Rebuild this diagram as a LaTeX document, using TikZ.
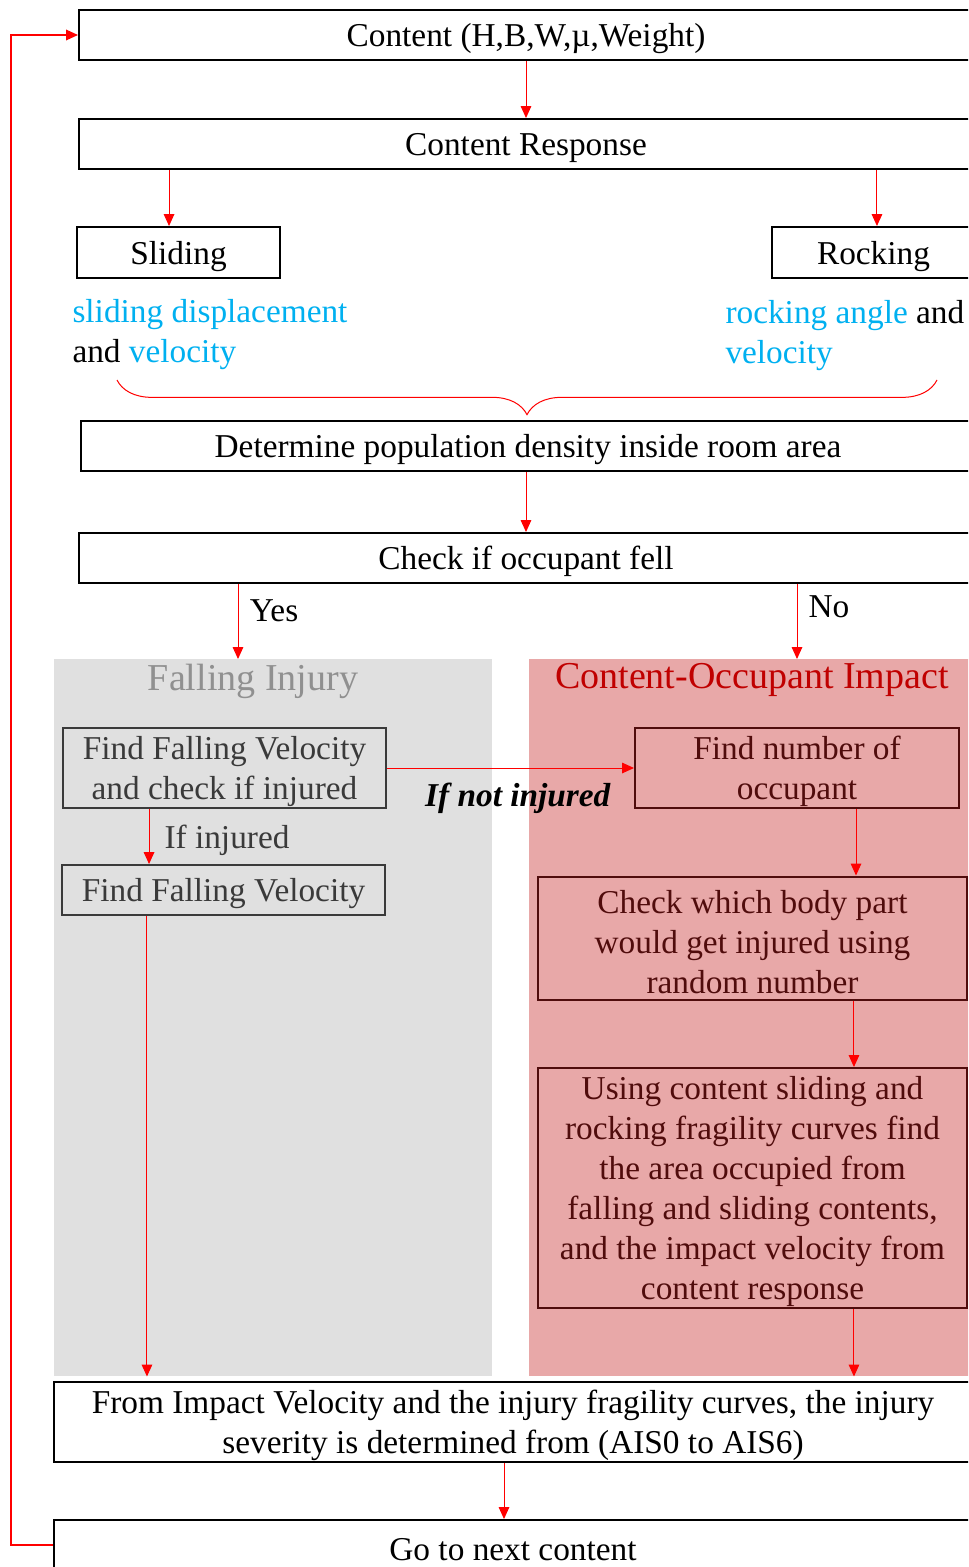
\documentclass[tikz,border=0pt]{standalone}
\usepackage{fontspec}
\setmainfont{Liberation Serif}
\usetikzlibrary{arrows.meta,decorations.pathreplacing}
\definecolor{skyb}{RGB}{0,176,240}
\definecolor{fallgray}{RGB}{224,224,224}
\definecolor{falltxt}{RGB}{144,144,144}
\definecolor{ffvdark}{RGB}{58,58,58}
\definecolor{imppink}{RGB}{232,168,168}
\definecolor{imptitle}{RGB}{192,0,0}
\definecolor{impdark}{RGB}{80,12,12}
\newcommand\toppad{\rule{0pt}{23pt}}
\tikzset{every picture/.style={line width=0.75pt}}
\tikzset{
  box/.style={draw=black, line width=1.5pt, align=center, inner sep=0pt, font=\fontsize{25}{30}\selectfont,
    execute at begin node={\toppad}},
  fbox/.style={box, draw=ffvdark, text=ffvdark},
  ibox/.style={box, draw=impdark, text=impdark},
  arr/.style={draw=red, line width=0.75pt, -{Triangle[length=9pt,width=8pt]}},
  lbl/.style={inner sep=0pt, font=\fontsize{25}{30}\selectfont},
  ttl/.style={inner sep=0pt, font=\fontsize{28.5}{34}\selectfont}
}

\begin{document}
\begin{tikzpicture}[x=0.75pt,y=0.75pt,yscale=-1,xscale=1]
\useasboundingbox (0,0) rectangle (968,1567);
\clip (0,0) rectangle (968,1567);

%Shape: Rectangle [content and response]
\node[box, minimum width=670.5pt, minimum height=37.5pt] (cont) at (526,35) {Content (H,B,W,µ,Weight)};
\node[box, minimum width=670.5pt, minimum height=37.5pt] (resp) at (526,144) {Content Response};
\node[box, minimum width=152.25pt, minimum height=38.25pt] (slide) at (178.5,252.5) {Sliding};
\node[box, minimum width=152.25pt, minimum height=38.25pt] (rock) at (873.5,252.5) {Rocking};

% Text Node
\node[lbl, anchor=west, align=left] (slidetxt) at (72,335) {\textcolor{skyb}{sliding displacement}\\and \textcolor{skyb}{velocity}};
% Text Node
\node[lbl, anchor=west, align=left] (rocktxt) at (725,336) {\textcolor{skyb}{rocking angle} and\\\textcolor{skyb}{velocity}};

%Shape: Brace
\draw[red, decorate, decoration={brace, amplitude=26pt, mirror}] (117,380) -- (937,380);

%Shape: Rectangle [density and fall check]
\node[box, minimum width=670.5pt, minimum height=37.5pt] (dens) at (528,446) {Determine population density inside room area};
\node[box, minimum width=670.5pt, minimum height=37.5pt] (fell) at (526,558) {Check if occupant fell};

%Shape: Rectangle [shaded regions]
\node[fill=fallgray, inner sep=0pt, minimum width=328.5pt, minimum height=537.75pt] (fallreg) at (273,1017.5) {};
\node[fill=imppink, inner sep=0pt, minimum width=334.5pt, minimum height=537.75pt] (impreg) at (752,1017.5) {};
\node[ttl, text=falltxt] (falltitle) at (253,681) {Falling Injury};
\node[ttl, text=imptitle] (imptitle) at (752,680) {Content-Occupant Impact};

%Shape: Rectangle [falling injury]
\node[fbox, minimum width=242.25pt, minimum height=60pt] (ffvchk) at (224.5,768) {\toppad Find Falling Velocity\\and check if injured};
\node[fbox, minimum width=242.25pt, minimum height=37.5pt] (ffv) at (223.5,890) {Find Falling Velocity};

%Shape: Rectangle [content-occupant impact]
\node[ibox, minimum width=243pt, minimum height=60pt] (occnum) at (797,768) {\toppad Find number of\\occupant};
\node[ibox, minimum width=321.75pt, minimum height=92.25pt] (body) at (752.5,938) {\toppad Check which body part\\would get injured using\\random number};
\node[ibox, minimum width=321.75pt, minimum height=180pt] (usecurve) at (752.5,1188) {\toppad Using content sliding and\\rocking fragility curves find\\the area occupied from\\falling and sliding contents,\\and the impact velocity from\\content response};

%Shape: Rectangle [severity and next]
\node[box, minimum width=688.5pt, minimum height=60pt] (sever) at (513,1422) {\toppad From Impact Velocity and the injury fragility curves, the injury\\severity is determined from (AIS0 to AIS6)};
\node[box, minimum width=688.5pt, minimum height=37.5pt] (next) at (513,1545) {Go to next content};

\coordinate (yesend) at (238,659);
\coordinate (noend) at (797,659);

%Straight Lines
\draw[arr] (cont.south) -- (resp.north);
\draw[arr] ([xshift=-7.1pt]slide.north |- resp.south) -- ([xshift=-7.1pt]slide.north);
\draw[arr] ([xshift=2.6pt]rock.north |- resp.south) -- ([xshift=2.6pt]rock.north);
\draw[arr] (fell.north |- dens.south) -- (fell.north);
\draw[arr] (fell.south -| yesend) -- (yesend);
\draw[arr] (fell.south -| noend) -- (noend);
\draw[arr] ([xshift=-56.6pt]ffvchk.south) -- ([xshift=-56.6pt]ffvchk.south |- ffv.north);
\draw[arr] (ffvchk.east) -- (occnum.west);
\draw[arr] ([xshift=44.25pt]occnum.south) -- ([xshift=44.25pt]occnum.south |- body.north);
\draw[arr] ([xshift=76.1pt]body.south) -- ([xshift=76.1pt]body.south |- usecurve.north);
\draw[arr] ([xshift=-57.4pt]ffv.south) -- ([xshift=-57.4pt]ffv.south |- fallreg.south);
\draw[arr] ([xshift=76.1pt]usecurve.south) -- ([xshift=76.1pt]usecurve.south |- impreg.south);
\draw[arr] ([xshift=-6.75pt]sever.south) -- ([xshift=-6.75pt]sever.south |- next.north);
\draw[arr, line width=1pt] (next.west) -- ++(-42,0) |- (cont.west);

% Text Node
\node[lbl] (yeslbl) at (274,611) {Yes};
\node[lbl] (nolbl) at (829,607) {No};
\node[lbl, text=ffvdark] (injlbl) at (227,840) {If injured};
\node[lbl] (notinjlbl) at (518,798) {\textbf{\textit{If not injured}}};

\end{tikzpicture}
\end{document}
